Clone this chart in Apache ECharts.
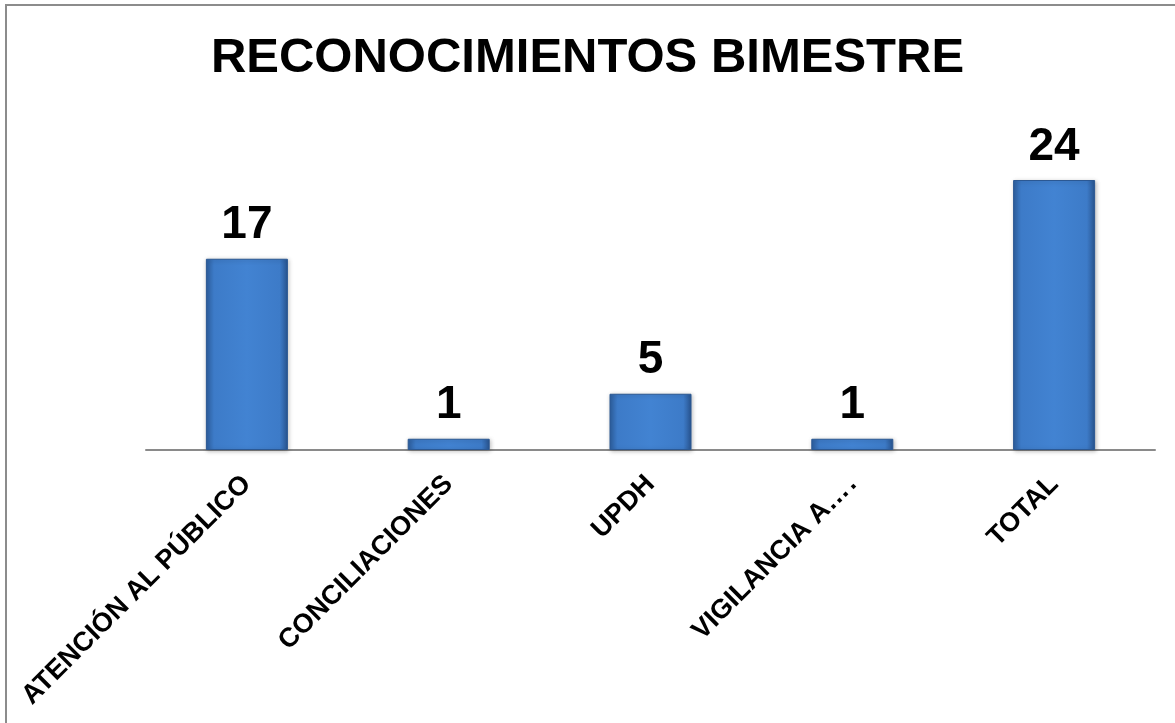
<!DOCTYPE html>
<html>
<head>
<meta charset="utf-8">
<script src="https://cdn.jsdelivr.net/npm/echarts@6/dist/echarts.min.js"></script>
<style>
  html, body { margin: 0; padding: 0; background: #fff; }
  #chart { width: 1175px; height: 723px; }
</style>
</head>
<body>
<div id="chart"></div>
<script>
// Chart data
const categories = ['ATENCIÓN AL PÚBLICO', 'CONCILIACIONES', 'UPDH', 'VIGILANCIA A…\u200A.', 'TOTAL'];
const values = [17, 1, 5, 1, 24];
const titleText = 'RECONOCIMIENTOS BIMESTRE';

const chart = echarts.init(document.getElementById('chart'), null, { renderer: 'canvas' });

chart.setOption({
  backgroundColor: '#fff',
  textStyle: { fontFamily: 'Liberation Sans, Arial, sans-serif' },
  title: {
    text: titleText,
    left: 'center',
    top: 29,
    textStyle: { fontSize: 49, fontWeight: 'bold', color: '#000', fontFamily: 'Liberation Sans, Arial, sans-serif' }
  },
  graphic: [
    { type: 'line', shape: { x1: 6, y1: 5, x2: 1175, y2: 5 }, style: { stroke: '#8c8c8c', lineWidth: 2 } },
    { type: 'line', shape: { x1: 6, y1: 4, x2: 6, y2: 723 }, style: { stroke: '#8c8c8c', lineWidth: 2 } }
  ],
  grid: { left: 146, right: 20, top: 180, bottom: 273, containLabel: false },
  xAxis: {
    type: 'category',
    data: categories,
    axisLine: { lineStyle: { color: '#8a8a8a', width: 2 } },
    axisTick: { show: false },
    axisLabel: {
      rotate: 45,
      interval: 0,
      margin: 30,
      fontSize: 27,
      fontWeight: 'bold',
      color: '#000'
    }
  },
  yAxis: {
    type: 'value',
    min: 0,
    max: 24,
    show: false,
    splitLine: { show: false }
  },
  series: [{
    type: 'bar',
    data: values,
    barWidth: 82,
    itemStyle: {
      color: new echarts.graphic.LinearGradient(0, 0, 1, 0, [
        { offset: 0, color: '#2d5f9f' },
        { offset: 0.1, color: '#3d7bc8' },
        { offset: 0.5, color: '#4283d2' },
        { offset: 0.9, color: '#3d7bc8' },
        { offset: 1, color: '#28548f' }
      ]),
      borderColor: '#2b5893',
      borderWidth: 1,
      shadowColor: 'rgba(0,0,0,0.25)',
      shadowBlur: 4,
      shadowOffsetX: 1,
      shadowOffsetY: 1
    },
    label: {
      show: true,
      position: 'top',
      distance: 10,
      fontSize: 46,
      fontWeight: 'bold',
      color: '#000'
    }
  }]
});
</script>
</body>
</html>
